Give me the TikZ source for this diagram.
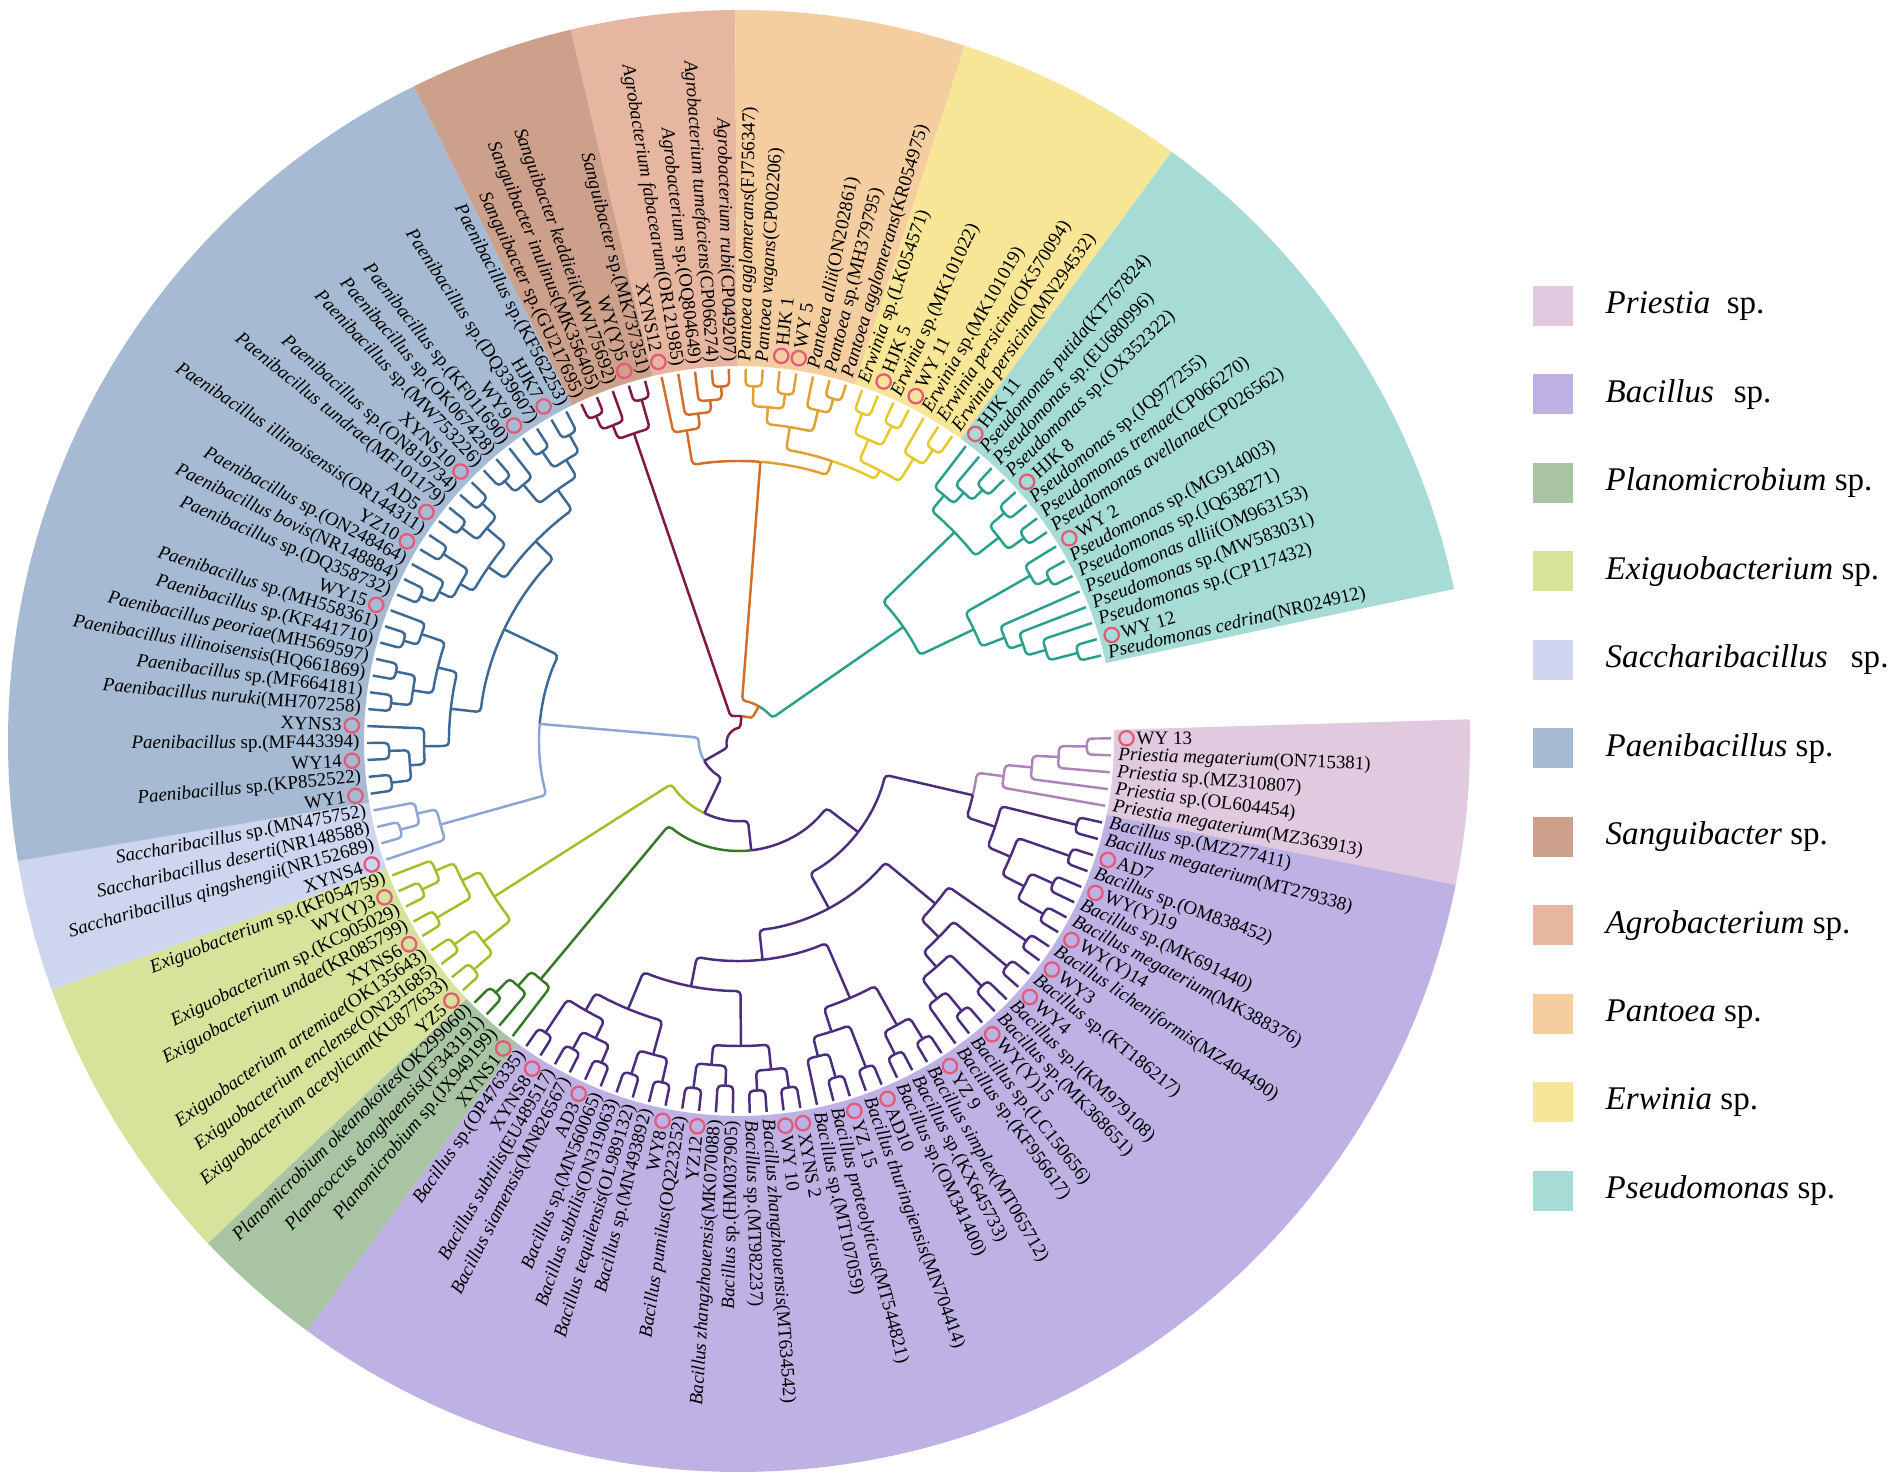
\documentclass[tikz,border=0pt]{standalone}
\usepackage{fontspec}
\setmainfont{Liberation Serif}
\definecolor{fPri}{RGB}{225,201,224}
\definecolor{fBac}{RGB}{190,178,229}
\definecolor{fPla}{RGB}{168,196,163}
\definecolor{fExi}{RGB}{215,226,155}
\definecolor{fSac}{RGB}{205,214,238}
\definecolor{fPae}{RGB}{166,187,211}
\definecolor{fSan}{RGB}{204,160,138}
\definecolor{fAgr}{RGB}{230,182,160}
\definecolor{fPan}{RGB}{244,206,160}
\definecolor{fErw}{RGB}{246,230,150}
\definecolor{fPse}{RGB}{166,220,213}
\definecolor{cPri}{RGB}{176,130,186}
\definecolor{cBac}{RGB}{75,45,125}
\definecolor{cPla}{RGB}{55,120,40}
\definecolor{cExi}{RGB}{165,190,40}
\definecolor{cSac}{RGB}{140,165,215}
\definecolor{cPae}{RGB}{60,105,150}
\definecolor{cSan}{RGB}{130,20,70}
\definecolor{cAgr}{RGB}{210,110,40}
\definecolor{cPan}{RGB}{225,160,50}
\definecolor{cErw}{RGB}{230,200,40}
\definecolor{cPse}{RGB}{40,160,140}
\definecolor{ringc}{RGB}{228,90,120}
\def\LR{3.72}
\newcommand\setleaf[1]{\pgfmathsetmacro\tmpa{0.4-2.61*#1}\expandafter\xdef\csname TA@L#1\endcsname{\tmpa}\expandafter\xdef\csname TR@L#1\endcsname{\LR}}
\newcommand\nd[6]{%
  \edef\aA{\csname TA@#2\endcsname}%
  \edef\rA{\csname TR@#2\endcsname}%
  \edef\aB{\csname TA@#3\endcsname}%
  \edef\rB{\csname TR@#3\endcsname}%
  \pgfmathsetmacro\mM{(\aA+\aB)/2}%
  \draw[br,#5] (\aA:\rA) -- (\aA:#4) arc[start angle=\aA,end angle=\mM,radius=#4];%
  \draw[br,#6] (\aB:\rB) -- (\aB:#4) arc[start angle=\aB,end angle=\mM,radius=#4];%
  \expandafter\xdef\csname TA@#1\endcsname{\mM}%
  \expandafter\xdef\csname TR@#1\endcsname{#4}}
\newcommand\ndc[5]{\nd{#1}{#2}{#3}{#4}{#5}{#5}}
\newcommand\lbl[3]{%
  \pgfmathsetmacro\la{0.4-2.61*#1}%
  \def\side{0}%
  \ifdim\la pt<-90pt\relax\ifdim\la pt>-270pt\relax\def\side{1}\fi\fi
  \ifnum#3=1\relax\def\rr{3.97}\else\def\rr{3.79}\fi
  \ifnum\side=1\relax
    \pgfmathsetmacro\lr{\la+180}%
    \node[lab,anchor=east,rotate=\lr] (t#1) at (\la:\rr) {#2};%
  \else
    \node[lab,anchor=west,rotate=\la] (t#1) at (\la:\rr) {#2};%
  \fi
  \ifnum#3=1\relax\draw[ring] (\la:3.875) circle[radius=0.072];\fi}
\newcommand\sect[3]{\fill[#3] (#1:3.75) arc[start angle=#1,end angle=#2,radius=3.75] -- (#2:7.31) arc[start angle=#2,end angle=#1,radius=7.31] -- cycle;}
\begin{document}
\begin{tikzpicture}[
  br/.style={line width=0.7pt,rounded corners=1.2pt},
  lab/.style={inner sep=0pt,font=\fontsize{5.4}{6}\selectfont},
  ring/.style={draw=ringc,line width=0.65pt},
  leg/.style={inner sep=0pt,font=\fontsize{9.4}{10}\selectfont}]
\useasboundingbox[fill=white] (0,0) rectangle (19.02,14.80);
\begin{scope}[shift={(7.39,7.39)}]
\sect{1.7}{-11.35}{fPri}
\sect{-11.35}{-126.2}{fBac}
\sect{-126.2}{-136.6}{fPla}
\sect{-136.6}{-160.1}{fExi}
\sect{-160.1}{-170.55}{fSac}
\sect{-170.55}{-243.6}{fPae}
\sect{-243.6}{-256.7}{fSan}
\sect{-256.7}{-269.7}{fAgr}
\sect{-269.7}{-288.0}{fPan}
\sect{-288.0}{-306.3}{fErw}
\sect{-306.3}{-348.0}{fPse}
\foreach \i in {0,...,133}{\setleaf{\i}}
% Priestia
\ndc{pr1}{L0}{L1}{3.48}{cPri}
\ndc{pr2}{pr1}{L2}{3.2}{cPri}
\ndc{pr3}{pr2}{L3}{2.94}{cPri}
\ndc{pr4}{pr3}{L4}{2.67}{cPri}
% Bacillus
\ndc{b1}{L5}{L6}{3.48}{cBac}
\ndc{b2}{L7}{L8}{3.5}{cBac}
\ndc{b3}{L9}{L10}{3.45}{cBac}
\ndc{b4}{L11}{L12}{3.5}{cBac}
\ndc{b5}{b3}{b4}{3.2}{cBac}
\ndc{b6}{b2}{b5}{2.95}{cBac}
\ndc{b7}{b1}{b6}{2.7}{cBac}
\nd{pb1}{pr4}{b7}{2.4}{cPri}{cBac}
\ndc{b8}{L13}{L14}{3.5}{cBac}
\ndc{b9}{L15}{L16}{3.5}{cBac}
\ndc{b10}{L17}{L18}{3.45}{cBac}
\ndc{b11}{L19}{L20}{3.5}{cBac}
\ndc{b12}{b11}{L21}{3.25}{cBac}
\ndc{b13}{b10}{b12}{3.0}{cBac}
\ndc{b14}{b9}{b13}{2.8}{cBac}
\ndc{b15}{b8}{b14}{2.55}{cBac}
\ndc{b16}{L22}{L23}{3.5}{cBac}
\ndc{b17}{L24}{L25}{3.5}{cBac}
\ndc{b18}{b16}{b17}{3.25}{cBac}
\ndc{b19}{L26}{L27}{3.5}{cBac}
\ndc{b20}{L28}{L29}{3.5}{cBac}
\ndc{b21}{b20}{L30}{3.25}{cBac}
\ndc{b22}{b19}{b21}{3.05}{cBac}
\ndc{b23}{b18}{b22}{2.8}{cBac}
\ndc{b24}{L31}{L32}{3.5}{cBac}
\ndc{b25}{L33}{L34}{3.5}{cBac}
\ndc{b26}{b24}{b25}{3.3}{cBac}
\ndc{b27}{L35}{L36}{3.45}{cBac}
\ndc{b28}{L37}{L38}{3.5}{cBac}
\ndc{b29}{b27}{b28}{3.25}{cBac}
\ndc{b30}{b26}{b29}{3.05}{cBac}
\ndc{b31}{L39}{L40}{3.5}{cBac}
\ndc{b32}{L41}{L42}{3.5}{cBac}
\ndc{b33}{b31}{b32}{3.25}{cBac}
\ndc{b34}{L43}{L44}{3.5}{cBac}
\ndc{b35}{L45}{L46}{3.5}{cBac}
\ndc{b36}{b34}{b35}{3.3}{cBac}
\ndc{b37}{L47}{L48}{3.5}{cBac}
\ndc{b38}{b36}{b37}{3.1}{cBac}
\ndc{b39}{b33}{b38}{2.9}{cBac}
\ndc{b40}{b30}{b39}{2.5}{cBac}
\ndc{b41}{b23}{b40}{2.2}{cBac}
\ndc{b42}{b15}{b41}{1.9}{cBac}
\ndc{b43}{pb1}{b42}{1.5}{cBac}
% Planomicrobium
\ndc{pl1}{L51}{L52}{3.5}{cPla}
\ndc{pl2}{L50}{pl1}{3.3}{cPla}
\ndc{pl3}{L49}{pl2}{3.1}{cPla}
% Exiguobacterium
\ndc{ex1}{L53}{L54}{3.5}{cExi}
\ndc{ex2}{L55}{L56}{3.5}{cExi}
\ndc{ex3}{ex1}{ex2}{3.25}{cExi}
\ndc{ex4}{L57}{L58}{3.5}{cExi}
\ndc{ex5}{L59}{L60}{3.5}{cExi}
\ndc{ex6}{ex5}{L61}{3.3}{cExi}
\ndc{ex7}{ex4}{ex6}{3.1}{cExi}
\ndc{ex8}{ex3}{ex7}{2.9}{cExi}
% Saccharibacillus
\ndc{sa1}{L63}{L64}{3.5}{cSac}
\ndc{sa2}{sa1}{L65}{3.3}{cSac}
\ndc{sa3}{L62}{sa2}{3.1}{cSac}
% Paenibacillus
\ndc{pa1}{L66}{L67}{3.5}{cPae}
\ndc{pa2}{L68}{L69}{3.5}{cPae}
\ndc{pa3}{pa1}{pa2}{3.3}{cPae}
\ndc{pa4}{pa3}{L70}{3.15}{cPae}
\ndc{pa5}{L71}{L72}{3.5}{cPae}
\ndc{pa6}{L73}{L74}{3.5}{cPae}
\ndc{pa7}{pa5}{pa6}{3.3}{cPae}
\ndc{pa8}{L75}{L76}{3.5}{cPae}
\ndc{pa9}{pa8}{L77}{3.35}{cPae}
\ndc{pa10}{pa7}{pa9}{3.1}{cPae}
\ndc{pa11}{pa4}{pa10}{2.9}{cPae}
\ndc{pa12}{L78}{L79}{3.5}{cPae}
\ndc{pa13}{pa12}{L80}{3.35}{cPae}
\ndc{pa14}{L81}{L82}{3.5}{cPae}
\ndc{pa15}{pa13}{pa14}{3.2}{cPae}
\ndc{pa16}{L83}{L84}{3.5}{cPae}
\ndc{pa17}{L85}{L86}{3.5}{cPae}
\ndc{pa18}{pa16}{pa17}{3.3}{cPae}
\ndc{pa19}{pa15}{pa18}{3.05}{cPae}
\ndc{pa20}{L87}{L88}{3.5}{cPae}
\ndc{pa21}{pa20}{L89}{3.35}{cPae}
\ndc{pa22}{L90}{L91}{3.5}{cPae}
\ndc{pa23}{L92}{L93}{3.5}{cPae}
\ndc{pa24}{pa22}{pa23}{3.3}{cPae}
\ndc{pa25}{pa21}{pa24}{3.1}{cPae}
\ndc{pa26}{pa19}{pa25}{2.85}{cPae}
\ndc{pa27}{pa11}{pa26}{2.6}{cPae}
% Sanguibacter
\ndc{s1}{L94}{L95}{3.55}{cSan}
\ndc{s2}{s1}{L96}{3.4}{cSan}
\ndc{s3}{L97}{L98}{3.55}{cSan}
\ndc{s4}{s2}{s3}{3.25}{cSan}
% Agrobacterium
\ndc{a1}{L102}{L103}{3.55}{cAgr}
\ndc{a2}{L101}{a1}{3.42}{cAgr}
\ndc{a3}{L100}{a2}{3.3}{cAgr}
\ndc{a4}{L99}{a3}{3.15}{cAgr}
% Pantoea
\ndc{n1}{L104}{L105}{3.55}{cPan}
\ndc{n2}{L106}{L107}{3.5}{cPan}
\ndc{n3}{n1}{n2}{3.35}{cPan}
\ndc{n4}{L109}{L110}{3.55}{cPan}
\ndc{n5}{L108}{n4}{3.4}{cPan}
\ndc{n6}{n3}{n5}{3.18}{cPan}
% Erwinia
\ndc{e1}{L111}{L112}{3.5}{cErw}
\ndc{e2}{L113}{L114}{3.5}{cErw}
\ndc{e3}{e1}{e2}{3.28}{cErw}
\ndc{e4}{L116}{L117}{3.5}{cErw}
\ndc{e5}{L115}{e4}{3.32}{cErw}
\ndc{e6}{e3}{e5}{3.05}{cErw}
% Pseudomonas
\ndc{p1}{L132}{L133}{3.5}{cPse}
\ndc{p2}{L131}{p1}{3.2}{cPse}
\ndc{p3}{L130}{p2}{3.0}{cPse}
\ndc{p4}{L129}{p3}{2.85}{cPse}
\ndc{p5}{L127}{L128}{3.5}{cPse}
\ndc{p6}{L126}{p5}{3.35}{cPse}
\ndc{p7}{p6}{p4}{2.6}{cPse}
\ndc{p8}{L124}{L125}{3.5}{cPse}
\ndc{p9}{L122}{L123}{3.5}{cPse}
\ndc{p10}{p9}{p8}{3.3}{cPse}
\ndc{p11}{L120}{L121}{3.5}{cPse}
\ndc{p12}{L119}{p11}{3.35}{cPse}
\ndc{p13}{L118}{p12}{3.2}{cPse}
\ndc{p14}{p13}{p10}{3.0}{cPse}
\ndc{p15}{p14}{p7}{2.0}{cPse}
% deep structure
\nd{F1}{b43}{pl3}{1.1}{cBac}{cPla}
\nd{F2}{F1}{ex8}{0.8}{cBac}{cExi}
\nd{PS}{sa3}{pa27}{2.0}{cSac}{cPae}
\nd{FI}{F2}{PS}{0.4}{cBac}{cSac}
\nd{PE}{n6}{e6}{2.95}{cPan}{cErw}
\nd{AG}{a4}{PE}{2.8}{cAgr}{cPan}
\nd{PR}{AG}{p15}{0.4}{cAgr}{cPse}
\nd{SP}{s4}{PR}{0.25}{cSan}{cAgr}
\nd{ROOT}{FI}{SP}{0.12}{cBac}{cSan}
% labels
\lbl{0}{WY 13}{1}
\lbl{1}{\textit{Priestia megaterium}(ON715381)}{0}
\lbl{2}{\textit{Priestia} sp.(MZ310807)}{0}
\lbl{3}{\textit{Priestia} sp.(OL604454)}{0}
\lbl{4}{\textit{Priestia megaterium}(MZ363913)}{0}
\lbl{5}{\textit{Bacillus} sp.(MZ277411)}{0}
\lbl{6}{\textit{Bacillus megaterium}(MT279338)}{0}
\lbl{7}{AD7}{1}
\lbl{8}{\textit{Bacillus} sp.(OM838452)}{0}
\lbl{9}{WY(Y)19}{1}
\lbl{10}{\textit{Bacillus} sp.(MK691440)}{0}
\lbl{11}{\textit{Bacillus megaterium}(MK388376)}{0}
\lbl{12}{WY(Y)14}{1}
\lbl{13}{\textit{Bacillus licheniformis}(MZ404490)}{0}
\lbl{14}{WY3}{1}
\lbl{15}{\textit{Bacillus} sp.(KT186217)}{0}
\lbl{16}{WY4}{1}
\lbl{17}{\textit{Bacillus} sp.l(KM979108)}{0}
\lbl{18}{\textit{Bacillus} sp.(MK368651)}{0}
\lbl{19}{WY(Y)15}{1}
\lbl{20}{\textit{Bacillus} sp.(LC150656)}{0}
\lbl{21}{\textit{Bacillus} sp.(KF956617)}{0}
\lbl{22}{YZ 9}{1}
\lbl{23}{\textit{Bacillus simplex}(MT065712)}{0}
\lbl{24}{\textit{Bacillus} sp.(KX645733)}{0}
\lbl{25}{\textit{Bacillus} sp.(OM341400)}{0}
\lbl{26}{AD10}{1}
\lbl{27}{\textit{Bacillus thuringiensis}(MN704414)}{0}
\lbl{28}{YZ 15}{1}
\lbl{29}{\textit{Bacillus proteolyticus}(MT544821)}{0}
\lbl{30}{\textit{Bacillus} sp.(MT107059)}{0}
\lbl{31}{XYNS 2}{1}
\lbl{32}{WY 10}{1}
\lbl{33}{\textit{Bacillus zhangzhouensis}(MT634542)}{0}
\lbl{34}{\textit{Bacillus} sp.(MT982237)}{0}
\lbl{35}{\textit{Bacillus} sp.(HM037905)}{0}
\lbl{36}{\textit{Bacillus zhangzhouensis}(MK070088)}{0}
\lbl{37}{YZ12}{1}
\lbl{38}{\textit{Bacillus pumilus}(OQ223252)}{0}
\lbl{39}{WY8}{1}
\lbl{40}{\textit{Bacillus} sp.(MN493892)}{0}
\lbl{41}{\textit{Bacillus tequilensis}(OL989132)}{0}
\lbl{42}{\textit{Bacillus subtilis}(ON319063)}{0}
\lbl{43}{\textit{Bacillus} sp.(MN560065)}{0}
\lbl{44}{AD3}{1}
\lbl{45}{\textit{Bacillus siamensis}(MN826567)}{0}
\lbl{46}{\textit{Bacillus subtilis}(EU489517)}{0}
\lbl{47}{XYNS8}{1}
\lbl{48}{\textit{Bacillus} sp.(OP476335)}{0}
\lbl{49}{XYNS1}{1}
\lbl{50}{\textit{Planomicrobium} sp.(JX949199)}{0}
\lbl{51}{\textit{Planococcus donghaensis}(JF343191)}{0}
\lbl{52}{\textit{Planomicrobium okeanokoites}(OK299060)}{0}
\lbl{53}{YZ5}{1}
\lbl{54}{\textit{Exiguobacterium acetylicum}(KU877633)}{0}
\lbl{55}{\textit{Exiguobacterium enclense}(ON231685)}{0}
\lbl{56}{\textit{Exiguobacterium artemiae}(OK135643)}{0}
\lbl{57}{XYNS6}{1}
\lbl{58}{\textit{Exiguobacterium undae}(KR085799)}{0}
\lbl{59}{\textit{Exiguobacterium} sp.(KC905029)}{0}
\lbl{60}{WY(Y)3}{1}
\lbl{61}{\textit{Exiguobacterium} sp.(KF054759)}{0}
\lbl{62}{XYNS4}{1}
\lbl{63}{\textit{Saccharibacillus qingshengii}(NR152689)}{0}
\lbl{64}{\textit{Saccharibacillus deserti}(NR148588)}{0}
\lbl{65}{\textit{Saccharibacillus} sp.(MN475752)}{0}
\lbl{66}{WY1}{1}
\lbl{67}{\textit{Paenibacillus} sp.(KP852522)}{0}
\lbl{68}{WY14}{1}
\lbl{69}{\textit{Paenibacillus} sp.(MF443394)}{0}
\lbl{70}{XYNS3}{1}
\lbl{71}{\textit{Paenibacillus nuruki}(MH707258)}{0}
\lbl{72}{\textit{Paenibacillus} sp.(MF664181)}{0}
\lbl{73}{\textit{Paenibacillus illinoisensis}(HQ661869)}{0}
\lbl{74}{\textit{Paenibacillus peoriae}(MH569597)}{0}
\lbl{75}{\textit{Paenibacillus} sp.(KF441710)}{0}
\lbl{76}{\textit{Paenibacillus} sp.(MH558361)}{0}
\lbl{77}{WY15}{1}
\lbl{78}{\textit{Paenibacillus} sp.(DQ358732)}{0}
\lbl{79}{\textit{Paenibacillus bovis}(NR148884)}{0}
\lbl{80}{\textit{Paenibacillus} sp.(ON248464)}{0}
\lbl{81}{YZ10}{1}
\lbl{82}{\textit{Paenibacillus illinoisensis}(OR144311)}{0}
\lbl{83}{AD5}{1}
\lbl{84}{\textit{Paenibacillus tundrae}(MF101179)}{0}
\lbl{85}{\textit{Paenibacillus} sp.(ON819734)}{0}
\lbl{86}{XYNS10}{1}
\lbl{87}{\textit{Paenibacillus} sp.(MW753226)}{0}
\lbl{88}{\textit{Paenibacillus} sp.(OK067428)}{0}
\lbl{89}{\textit{Paenibacillus} sp.(KF011690)}{0}
\lbl{90}{WY9}{1}
\lbl{91}{\textit{Paenibacillus} sp.(DQ339607)}{0}
\lbl{92}{HJK7}{1}
\lbl{93}{\textit{Paenibacillus} sp.(KF562253)}{0}
\lbl{94}{\textit{Sanguibacter} sp.(GU217695)}{0}
\lbl{95}{\textit{Sanguibacter inulinus}(MK356405)}{0}
\lbl{96}{\textit{Sanguibacter keddieii}(MW175692)}{0}
\lbl{97}{WY(Y)5}{1}
\lbl{98}{\textit{Sanguibacter} sp.(MK737351)}{0}
\lbl{99}{XYNS12}{1}
\lbl{100}{\textit{Agrobacterium fabacearum}(OR121985)}{0}
\lbl{101}{\textit{Agrobacterium} sp.(OQ804649)}{0}
\lbl{102}{\textit{Agrobacterium tumefaciens}(CP066274)}{0}
\lbl{103}{\textit{Agrobacterium rubi}(CP049207)}{0}
\lbl{104}{\textit{Pantoea agglomerans}(FJ756347)}{0}
\lbl{105}{\textit{Pantoea vagans}(CP002206)}{0}
\lbl{106}{HJK 1}{1}
\lbl{107}{WY 5}{1}
\lbl{108}{\textit{Pantoea allii}(ON202861)}{0}
\lbl{109}{\textit{Pantoea} sp.(MH379795)}{0}
\lbl{110}{\textit{Pantoea agglomerans}(KR054975)}{0}
\lbl{111}{\textit{Erwinia} sp.(LK054571)}{0}
\lbl{112}{HJK 5}{1}
\lbl{113}{\textit{Erwinia} sp.(MK101022)}{0}
\lbl{114}{WY 11}{1}
\lbl{115}{\textit{Erwinia} sp.(MK101019)}{0}
\lbl{116}{\textit{Erwinia persicina}(OK570094)}{0}
\lbl{117}{\textit{Erwinia persicina}(MN294532)}{0}
\lbl{118}{HJK 11}{1}
\lbl{119}{\textit{Pseudomonas putida}(KT767824)}{0}
\lbl{120}{\textit{Pseudomonas} sp.(EU680996)}{0}
\lbl{121}{\textit{Pseudomonas} sp.(OX352322)}{0}
\lbl{122}{HJK 8}{1}
\lbl{123}{\textit{Pseudomonas} sp.(JQ977255)}{0}
\lbl{124}{\textit{Pseudomonas tremae}(CP066270)}{0}
\lbl{125}{\textit{Pseudomonas avellanae}(CP026562)}{0}
\lbl{126}{WY 2}{1}
\lbl{127}{\textit{Pseudomonas} sp.(MG914003)}{0}
\lbl{128}{\textit{Pseudomonas} sp.(JQ638271)}{0}
\lbl{129}{\textit{Pseudomonas allii}(OM963153)}{0}
\lbl{130}{\textit{Pseudomonas} sp.(MW583031)}{0}
\lbl{131}{\textit{Pseudomonas} sp.(CP117432)}{0}
\lbl{132}{WY 12}{1}
\lbl{133}{\textit{Pseudomonas cedrina}(NR024912)}{0}
\end{scope}
% legend
\foreach \c/\g/\gap [count=\k from 0] in {fPri/Priestia/0.5em,fBac/Bacillus/0.6em,fPla/Planomicrobium/0.25em,fExi/Exiguobacterium/0.25em,fSac/Saccharibacillus/0.7em,fPae/Paenibacillus/0.25em,fSan/Sanguibacter/0.25em,fAgr/Agrobacterium/0.25em,fPan/Pantoea/0.25em,fErw/Erwinia/0.25em,fPse/Pseudomonas/0.25em}{
  \fill[\c] (15.33,{11.74-0.885*\k-0.2}) rectangle ++(0.40,0.40);
  \node[leg,anchor=west] (lg\k) at (16.05,{11.74-0.885*\k}) {\textit{\g}\hspace{\gap}sp.};
}
\end{tikzpicture}
\end{document}
